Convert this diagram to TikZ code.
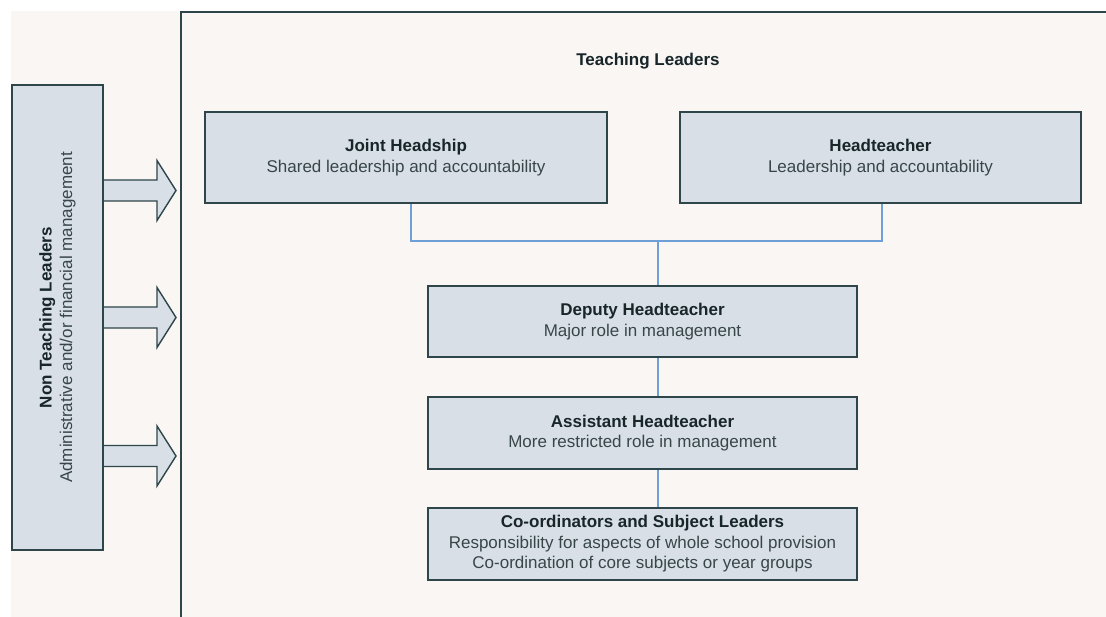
\documentclass[tikz,border=0pt]{standalone}
\usepackage{fontspec}
\setmainfont{Liberation Sans}
\definecolor{bgc}{HTML}{F9F6F3}
\definecolor{boxfill}{HTML}{D8DFE7}
\definecolor{boxline}{HTML}{2E454A}
\definecolor{conncol}{HTML}{6E9FD6}
\definecolor{titlecol}{HTML}{18262A}
\definecolor{subcol}{HTML}{384649}
\tikzset{
  x=1pt, y=-1pt,
  rolebox/.style={draw=boxline, line width=1.4pt, fill=boxfill, align=center, inner sep=0pt,
    font=\fontsize{17}{20.5}\selectfont, text=subcol},
  conn/.style={draw=conncol, line width=1.8pt},
  bigarrow/.style={draw=boxline, line width=1.4pt, fill=boxfill, line join=miter}
}
\newcommand{\ttl}[1]{{\bfseries\color{titlecol}#1}}
\begin{document}
\begin{tikzpicture}
\useasboundingbox (0,0) rectangle (1106,617);
\clip (0,0) rectangle (1106,617);
\fill[white] (0,0) rectangle (1106,617);
\fill[bgc] (11,11) rectangle (1106,617);
% outer teaching leaders frame
\draw[boxline, line width=1.4pt] (181,640) -- (181,12) -- (1130,12);
\node[font=\fontsize{17}{20.5}\selectfont\bfseries, text=titlecol] (tl) at (648,61) {Teaching Leaders};

% arrows
\foreach \yy in {190.5,317.5,456} {
  \fill[boxfill] (100,\yy-10.5) -- (157,\yy-10.5) -- (157,\yy-30) -- (176,\yy) -- (157,\yy+30) -- (157,\yy+10.5) -- (100,\yy+10.5) -- cycle;
  \draw[bigarrow] (103,\yy-10.5) -- (157,\yy-10.5) -- (157,\yy-30) -- (176,\yy) -- (157,\yy+30) -- (157,\yy+10.5) -- (103,\yy+10.5);
}

% non teaching box
\node[rolebox, rotate=90, minimum width=465, minimum height=91] (nt) at (57.5,317.5)
  {\ttl{Non Teaching Leaders}\\Administrative and/or financial management};

% teaching boxes
\node[rolebox, minimum width=402, minimum height=91] (joint) at (406,157.5)
  {\ttl{Joint Headship}\\Shared leadership and accountability};
\node[rolebox, minimum width=401, minimum height=91] (head) at (880.5,157.5)
  {\ttl{Headteacher}\\Leadership and accountability};
\node[rolebox, minimum width=429, minimum height=71] (deputy) at (642.5,321.5)
  {\ttl{Deputy Headteacher}\\Major role in management};
\node[rolebox, minimum width=429, minimum height=72] (assistant) at (642.5,433)
  {\ttl{Assistant Headteacher}\\More restricted role in management};
\node[rolebox, minimum width=429, minimum height=72] (coord) at (642.5,544)
  {\ttl{Co-ordinators and Subject Leaders}\\Responsibility for aspects of whole school provision\\Co-ordination of core subjects or year groups};

% connectors
\coordinate (mid) at (658,241);
\draw[conn] ([xshift=5pt,yshift=-0.7pt]joint.south) |- (mid) -| ([xshift=1.5pt,yshift=-0.7pt]head.south);
\draw[conn] (mid) -- ([yshift=0.7pt]deputy.north -| mid);
\draw[conn] ([yshift=-0.7pt]deputy.south -| mid) -- ([yshift=0.7pt]assistant.north -| mid);
\draw[conn] ([yshift=-0.7pt]assistant.south -| mid) -- ([yshift=0.7pt]coord.north -| mid);
\end{tikzpicture}
\end{document}
